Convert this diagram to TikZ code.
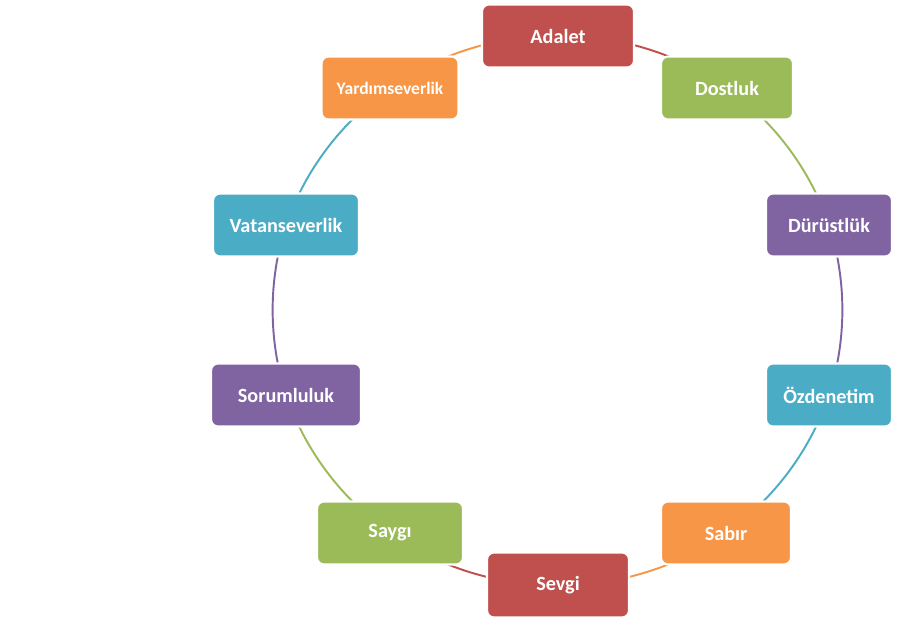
\documentclass[tikz,border=0pt]{standalone}
\usepackage{fontspec}
\setmainfont{Carlito}
\usetikzlibrary{backgrounds}
\definecolor{kirmizi}{HTML}{C0504D}
\definecolor{yesil}{HTML}{9BBB59}
\definecolor{mor}{HTML}{8064A2}
\definecolor{turkuaz}{HTML}{4BACC6}
\definecolor{turuncu}{HTML}{F79646}
\tikzset{
  kutu/.style={rectangle, rounded corners=4pt, draw=white, line width=1.2pt, text=white,
    font=\bfseries\fontsize{11.5}{13}\selectfont, minimum height=1.26cm, inner sep=2pt},
  bag/.style={line width=1.1pt, bend left=18, looseness=0.87}
}
\begin{document}
\begin{tikzpicture}[x=0.02cm, y=-0.02cm]
            \useasboundingbox (0,0) rectangle (913,621);
            \node[kutu, fill=kirmizi, minimum width=3.04cm] (adalet) at (558,36) {Adalet};
            \node[kutu, fill=yesil, minimum width=2.64cm] (dostluk) at (727,88) {Dostluk};
            \node[kutu, fill=mor, minimum width=2.52cm] (durustluk) at (829,225) {Dürüstlük};
            \node[kutu, fill=turkuaz, minimum width=2.52cm] (ozdenetim) at (829,395) {Özdenetim};
            \node[kutu, fill=turuncu, minimum width=2.6cm] (sabir) at (726,533) {Sabır};
            \node[kutu, fill=kirmizi, minimum width=2.84cm, minimum height=1.3cm] (sevgi) at (558,585) {Sevgi};
            \node[kutu, fill=yesil, minimum width=2.92cm] (saygi) at (390,533) {Saygı};
            \node[kutu, fill=mor, minimum width=3cm] (sorumluluk) at (286,395) {Sorumluluk};
            \node[kutu, fill=turkuaz, minimum width=2.92cm] (vatan) at (286,225) {Vatanseverlik};
            \node[kutu, fill=turuncu, minimum width=2.74cm, font=\bfseries\fontsize{10}{11}\selectfont] (yardim) at (390,88) {Yardımseverlik};
            % halka
            \begin{scope}[on background layer]
            \draw[bag, kirmizi] (adalet.center) to (dostluk.center);
            \draw[bag, yesil] (dostluk.center) to (durustluk.center);
            \draw[bag, mor] (durustluk.center) to (ozdenetim.center);
            \draw[bag, turkuaz] (ozdenetim.center) to (sabir.center);
            \draw[bag, turuncu] (sabir.center) to (sevgi.center);
            \draw[bag, kirmizi] (sevgi.center) to (saygi.center);
            \draw[bag, yesil] (saygi.center) to (sorumluluk.center);
            \draw[bag, mor] (sorumluluk.center) to (vatan.center);
            \draw[bag, turkuaz] (vatan.center) to (yardim.center);
            \draw[bag, turuncu] (yardim.center) to (adalet.center);
            \end{scope}
\end{tikzpicture}
\end{document}
